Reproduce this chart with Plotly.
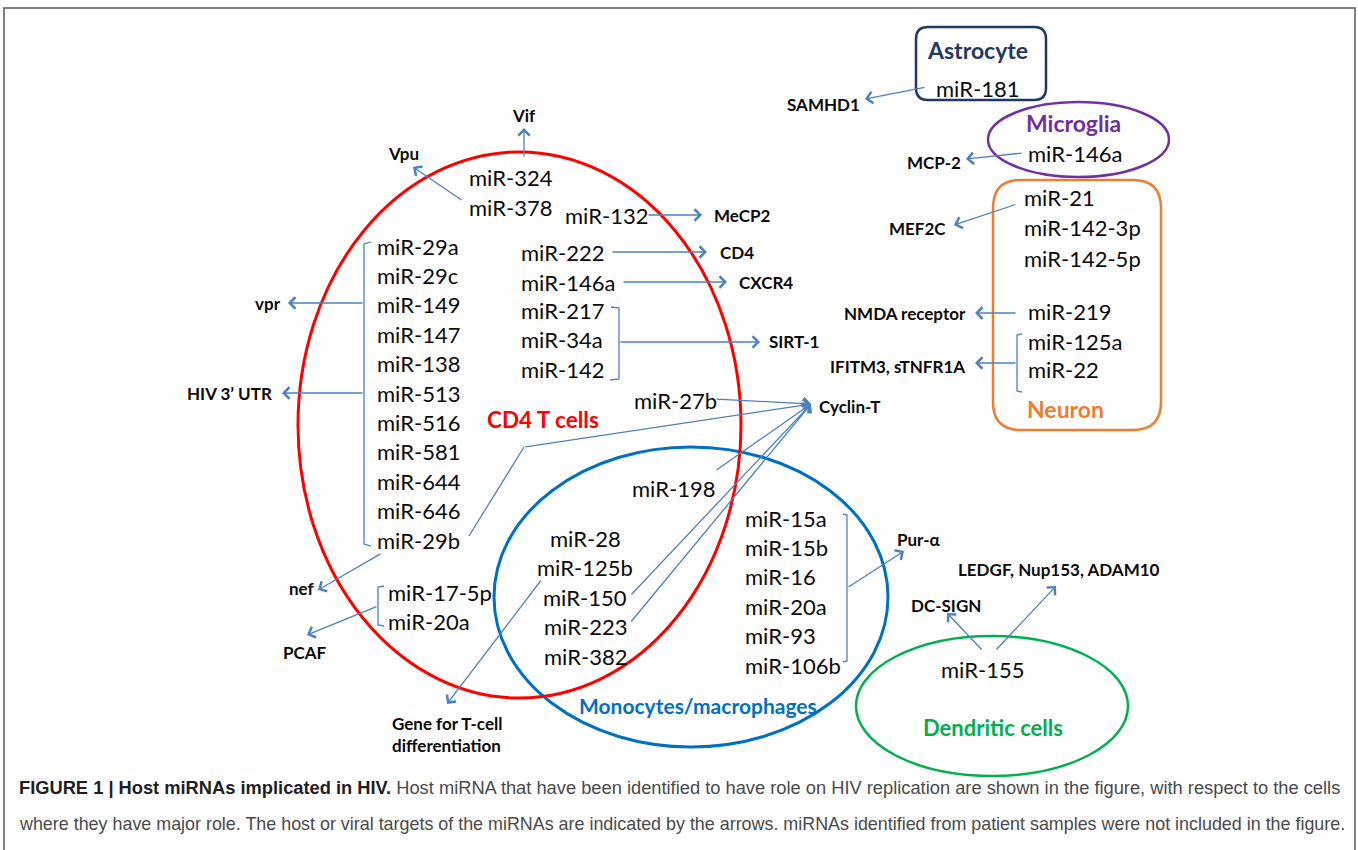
import plotly.graph_objects as go

W, H = 1358, 850

# ---------------- data (labels) ----------------
cell_types = ["Astrocyte", "Microglia", "Neuron", "CD4 T cells",
              "Monocytes/macrophages", "Dendritic cells"]
cell_colors = ["#1F3864", "#7030A0", "#ED7D31", "#FF0000", "#0070C0", "#00B050"]

astro_mirs = ["miR-181"]
microglia_mirs = ["miR-146a"]
neuron_mirs_top = ["miR-21", "miR-142-3p", "miR-142-5p"]
neuron_mirs_mid = ["miR-219"]
neuron_mirs_low = ["miR-125a", "miR-22"]
cd4_vif_vpu = ["miR-324", "miR-378"]
cd4_bracket = ["miR-29a", "miR-29c", "miR-149", "miR-147", "miR-138", "miR-513",
               "miR-516", "miR-581", "miR-644", "miR-646", "miR-29b"]
cd4_single = ["miR-132", "miR-222", "miR-146a"]
cd4_sirt = ["miR-217", "miR-34a", "miR-142"]
cd4_pcaf = ["miR-17-5p", "miR-20a"]
cyclin_mirs = ["miR-27b", "miR-198"]
mono_centre = ["miR-28", "miR-125b", "miR-150", "miR-223", "miR-382"]
mono_pur = ["miR-15a", "miR-15b", "miR-16", "miR-20a", "miR-93", "miR-106b"]
dc_mirs = ["miR-155"]

targets_astro = ["SAMHD1"]
targets_micro = ["MCP-2"]
targets_neuron = ["MEF2C", "NMDA receptor", "IFITM3, sTNFR1A"]
targets_cd4 = ["Vif", "Vpu", "MeCP2", "CD4", "CXCR4", "SIRT-1", "vpr",
               "HIV 3\u2019 UTR", "nef", "PCAF"]
target_cyclin = ["Cyclin-T"]
target_gene = ["Gene for T-cell", "differentiation"]
targets_mono = ["Pur-\u03b1"]
targets_dc = ["DC-SIGN", "LEDGF, Nup153, ADAM10"]

caption_bold = "FIGURE 1 | Host miRNAs implicated in HIV."
caption_line1 = (" Host miRNA that have been identified to have role on HIV replication "
                 "are shown in the figure, with respect to the cells")
caption_line2 = ("where they have major role. The host or viral targets of the miRNAs are "
                 "indicated by the arrows. miRNAs identified from patient samples were not "
                 "included in the figure.")

# ---------------- styles ----------------
MIR_FONT = dict(family="Lato, Open Sans, sans-serif", size=22, color="#0a0a0a")
TGT_FONT = dict(family="Lato, Open Sans, sans-serif", size=17, color="#0a0a0a",
                weight="bold")
ARROW = "#4F81BD"
ROW = 29.4

fig = go.Figure()
ann = []
shapes = []


def text(x, y, s, font, anchor="left", color=None):
    f = dict(font)
    if color:
        f["color"] = color
    ann.append(dict(x=x, y=y, xref="x", yref="y", text=s, showarrow=False,
                    xanchor=anchor, yanchor="middle", font=f))


def bold(x, y, s, size, color, anchor="center"):
    ann.append(dict(x=x, y=y, xref="x", yref="y", text="<b>%s</b>" % s,
                    showarrow=False, xanchor=anchor, yanchor="middle",
                    font=dict(family="Lato, Open Sans, sans-serif", size=size,
                              color=color)))


def arrow(x0, y0, x1, y1):
    ann.append(dict(x=x1, y=y1, ax=x0, ay=y0, xref="x", yref="y",
                    axref="x", ayref="y", text="", showarrow=True,
                    arrowhead=4, arrowsize=1.7, arrowwidth=1.3,
                    arrowcolor=ARROW, standoff=0, startstandoff=0))


def poly(pts, color=ARROW, width=1.3):
    fig.add_trace(go.Scatter(x=[p[0] for p in pts], y=[p[1] for p in pts],
                             mode="lines", line=dict(color=color, width=width),
                             hoverinfo="skip", showlegend=False))


def rrect(x0, y0, x1, y1, r, color, width):
    p = ("M%f,%f L%f,%f Q%f,%f %f,%f L%f,%f Q%f,%f %f,%f L%f,%f Q%f,%f %f,%f "
         "L%f,%f Q%f,%f %f,%f Z") % (
        x0 + r, y0, x1 - r, y0, x1, y0, x1, y0 + r,
        x1, y1 - r, x1, y1, x1 - r, y1,
        x0 + r, y1, x0, y1, x0, y1 - r,
        x0, y0 + r, x0, y0, x0 + r, y0)
    shapes.append(dict(type="path", path=p, xref="x", yref="y",
                       line=dict(color=color, width=width)))


def ellipse(x0, y0, x1, y1, color, width):
    shapes.append(dict(type="circle", x0=x0, x1=x1, y0=y0, y1=y1, xref="x",
                       yref="y", line=dict(color=color, width=width)))


# ---------------- outer frame ----------------
poly([(4, 852), (4, 8), (1355, 8), (1355, 852)], color="#5a5a5a", width=1.5)

# ---------------- cell outlines ----------------
rrect(916, 27, 1046, 100, 12, cell_colors[0], 2.5)
ellipse(988, 102, 1169, 177, cell_colors[1], 2.5)
rrect(993, 180, 1161, 430, 28, cell_colors[2], 2.5)
ellipse(494, 447, 888, 747, cell_colors[4], 3)
ellipse(298, 152, 741, 698, cell_colors[3], 3)
ellipse(856, 636, 1128, 776, cell_colors[5], 2.5)

# ---------------- cell names ----------------
bold(977, 50, cell_types[0], 23, cell_colors[0])
bold(1073, 123, cell_types[1], 23, cell_colors[1])
bold(1065, 409, cell_types[2], 23, cell_colors[2])
bold(543, 419, cell_types[3], 22.5, cell_colors[3])
bold(698, 705, cell_types[4], 21, cell_colors[4])
bold(993, 727, cell_types[5], 22, cell_colors[5])

# ---------------- Astrocyte / Microglia ----------------
text(977, 88, astro_mirs[0], MIR_FONT, "center")
text(823, 104, targets_astro[0], TGT_FONT, "center")
arrow(926, 87, 865, 99)

text(1026, 153, microglia_mirs[0], MIR_FONT, "left")
text(934, 162, targets_micro[0], TGT_FONT, "center")
arrow(1023, 153, 966, 159)

# ---------------- Neuron ----------------
for i, m in enumerate(neuron_mirs_top):
    text(1022, 197 + i * 30.5, m, MIR_FONT, "left")
text(917, 228, targets_neuron[0], TGT_FONT, "center")
arrow(1017, 204, 954, 225)

text(1026, 311, neuron_mirs_mid[0], MIR_FONT, "left")
text(968, 313, targets_neuron[1], TGT_FONT, "right")
arrow(1017, 313, 975, 313)

for i, m in enumerate(neuron_mirs_low):
    text(1026, 341 + i * 28, m, MIR_FONT, "left")
poly([(1022, 334), (1017, 335), (1017, 391), (1022, 392)])
text(967, 366, targets_neuron[2], TGT_FONT, "right")
arrow(1017, 363, 975, 363)

# ---------------- CD4 T cells ----------------
text(524, 115, targets_cd4[0], TGT_FONT, "center")
text(403, 153, targets_cd4[1], TGT_FONT, "center")
for i, m in enumerate(cd4_vif_vpu):
    text(467, 177 + i * 30, m, MIR_FONT, "left")
arrow(524, 158, 524, 128)
arrow(463, 201, 413, 167)

text(563, 215, cd4_single[0], MIR_FONT, "left")
text(712, 215, targets_cd4[2], TGT_FONT, "left")
arrow(647, 215, 702, 215)
text(519, 252, cd4_single[1], MIR_FONT, "left")
text(718, 252, targets_cd4[3], TGT_FONT, "left")
arrow(611, 252, 707, 252)
text(519, 282, cd4_single[2], MIR_FONT, "left")
text(737, 282, targets_cd4[4], TGT_FONT, "left")
arrow(622, 282, 727, 282)

for i, m in enumerate(cd4_sirt):
    text(519, 310 + i * 29.5, m, MIR_FONT, "left")
poly([(611, 307), (619, 308), (619, 379), (610, 380)])
text(767, 341, targets_cd4[5], TGT_FONT, "left")
arrow(619, 342, 760, 342)

for i, m in enumerate(cd4_bracket):
    text(375, 246 + i * ROW, m, MIR_FONT, "left")
poly([(371, 242), (364, 244), (364, 544), (371, 546)])
text(283, 303, targets_cd4[6], TGT_FONT, "right")
arrow(364, 303, 288, 303)
text(274, 393, targets_cd4[7], TGT_FONT, "right")
arrow(364, 393, 282, 393)

# nef / PCAF
text(302, 588, targets_cd4[8], TGT_FONT, "center")
arrow(382, 553, 318, 590)
for i, m in enumerate(cd4_pcaf):
    text(386, 592 + i * 29, m, MIR_FONT, "left")
poly([(384, 586), (378, 587), (378, 625), (384, 626)])
text(305, 652, targets_cd4[9], TGT_FONT, "center")
arrow(378, 606, 307, 635)

# ---------------- Cyclin-T hub ----------------
text(817, 406, target_cyclin[0], TGT_FONT, "left")
TIP = (811, 404)
text(632, 400, cyclin_mirs[0], MIR_FONT, "left")
arrow(715, 399, *TIP)
poly([(469, 536), (524, 447)])
arrow(524, 447, *TIP)
text(673, 488, cyclin_mirs[1], MIR_FONT, "center")
arrow(715, 471, *TIP)

# ---------------- Monocytes / macrophages ----------------
for i, m in enumerate(mono_centre):
    text(585, 538 + i * 29.5, m, MIR_FONT, "center")
arrow(630, 596, *TIP)
arrow(630, 623, *TIP)
arrow(542, 579, 447, 704)
text(390, 723, target_gene[0], TGT_FONT, "left")
text(390, 745, target_gene[1], TGT_FONT, "left")

for i, m in enumerate(mono_pur):
    text(743, 518 + i * ROW, m, MIR_FONT, "left")
poly([(843, 514), (847, 515), (847, 661), (843, 662)])
text(895, 539, targets_mono[0], TGT_FONT, "left")
arrow(847, 588, 904, 551)

# ---------------- Dendritic cells ----------------
text(982, 669, dc_mirs[0], MIR_FONT, "center")
text(909, 605, targets_dc[0], TGT_FONT, "left")
text(956, 569, targets_dc[1], TGT_FONT, "left")
arrow(983, 651, 947, 613)
arrow(995, 651, 1056, 586)

# ---------------- caption ----------------
CAP_FAMILY = "Liberation Sans Narrow, Liberation Sans, Arial, sans-serif"
ann.append(dict(x=17, y=787, xref="x", yref="y", showarrow=False,
                xanchor="left", yanchor="middle",
                font=dict(family=CAP_FAMILY, size=18.3, color="#4a4a4a"),
                text="<b><span style='color:#1e1e1e'>%s</span></b>%s"
                     % (caption_bold, caption_line1)))
ann.append(dict(x=17, y=824, xref="x", yref="y", showarrow=False,
                xanchor="left", yanchor="middle",
                font=dict(family=CAP_FAMILY, size=17.9, color="#4a4a4a"),
                text=caption_line2))

fig.update_layout(
    width=W, height=H, margin=dict(l=0, r=0, t=0, b=0),
    paper_bgcolor="white", plot_bgcolor="white",
    xaxis=dict(range=[0, W], visible=False, fixedrange=True),
    yaxis=dict(range=[H, 0], visible=False, fixedrange=True),
    annotations=ann, shapes=shapes, showlegend=False,
)

fig.write_html("out.html", config={"displayModeBar": False},
               post_script="document.body.style.margin='0';"
                           "document.body.style.overflow='hidden';")
